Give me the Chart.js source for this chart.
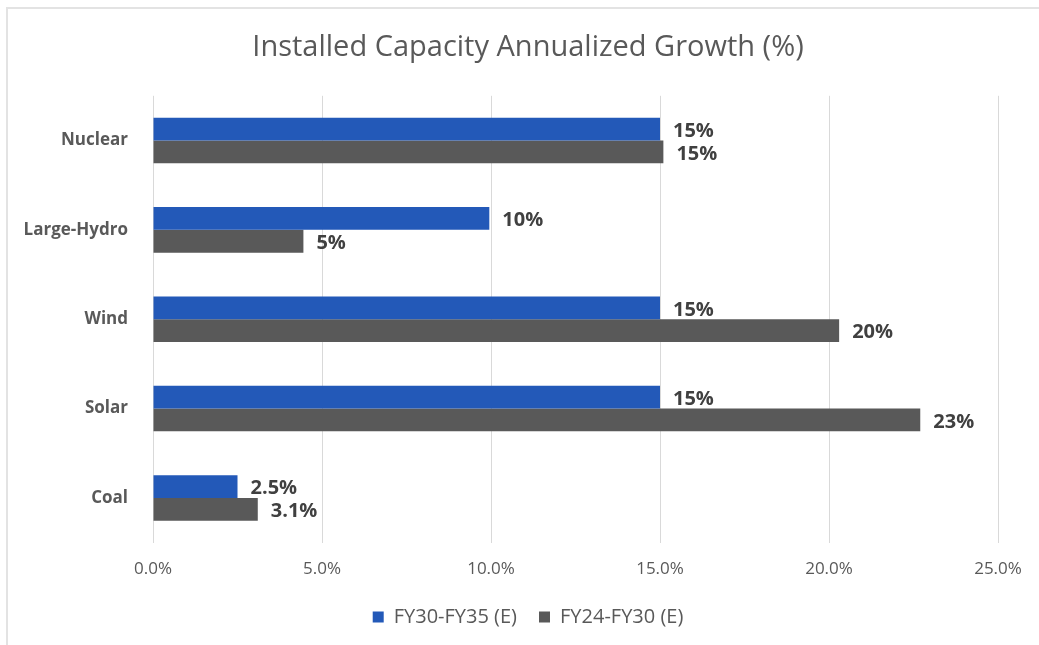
<!DOCTYPE html>
<html>
<head>
<meta charset="utf-8">
<title>Installed Capacity Annualized Growth</title>
<script src="https://cdn.jsdelivr.net/npm/chart.js@4"></script>
<style>
  html, body { margin: 0; padding: 0; background: #fff; }
  .frame {
    position: absolute; left: 6px; top: 7px; width: 1040px; height: 645px;
    border-left: 2px solid #e3e3e3; border-top: 2px solid #e3e3e3;
  }
  .chart-box { position: absolute; left: 0; top: 0; width: 1039px; height: 645px; }
</style>
</head>
<body>
<div class="frame"></div>
<div class="chart-box"><canvas id="chart"></canvas></div>
<script>
// categories and values (percent)
const categories = ['Nuclear', 'Large-Hydro', 'Wind', 'Solar', 'Coal'];
const fy30to35 = [15.0, 9.95, 15.0, 15.0, 2.5];
const fy24to30 = [15.1, 4.45, 20.3, 22.7, 3.1];
const fy30to35Labels = ['15%', '10%', '15%', '15%', '2.5%'];
const fy24to30Labels = ['15%', '5%', '20%', '23%', '3.1%'];
const seriesNames = ['FY30-FY35 (E)', 'FY24-FY30 (E)'];
const xTicks = [0, 5, 10, 15, 20, 25];

const FONT = "'Open Sans', 'Noto Sans', sans-serif";
const GREY_TEXT = '#595959';

// draw value labels at the end of each bar
const barLabels = {
  id: 'barLabels',
  afterDatasetsDraw(chart) {
    const ctx = chart.ctx;
    const texts = [fy30to35Labels, fy24to30Labels];
    ctx.save();
    ctx.font = `bold 20px ${FONT}`;
    ctx.fillStyle = '#404040';
    ctx.textAlign = 'left';
    ctx.textBaseline = 'middle';
    chart.data.datasets.forEach((ds, i) => {
      chart.getDatasetMeta(i).data.forEach((bar, j) => {
        ctx.fillText(texts[i][j], bar.x + 13, bar.y + 2);
      });
    });
    ctx.restore();
  }
};

// the y axis is kept narrow so title and legend centre like the original,
// so let its labels use the space to the left of it
const widenLabelArea = {
  id: 'widenLabelArea',
  afterLayout(chart) {
    chart.scales.y.left = 0;
  }
};

new Chart(document.getElementById('chart'), {
  type: 'bar',
  data: {
    labels: categories,
    datasets: [
      {
        label: seriesNames[0],
        data: fy30to35,
        backgroundColor: '#2359B8',
      },
      {
        label: seriesNames[1],
        data: fy24to30,
        backgroundColor: '#595959',
      },
    ],
  },
  options: {
    indexAxis: 'y',
    responsive: true,
    maintainAspectRatio: false,
    animation: false,
    categoryPercentage: 0.51,
    barPercentage: 1.0,
    layout: {
      padding: { left: 58, right: 41, top: 20, bottom: 8 },
    },
    plugins: {
      title: {
        display: true,
        text: 'Installed Capacity Annualized Growth (%)',
        color: GREY_TEXT,
        font: { family: FONT, size: 29, weight: 'normal' },
        padding: { top: 10, bottom: 31 },
      },
      legend: {
        position: 'bottom',
        labels: {
          color: GREY_TEXT,
          font: { family: FONT, size: 20 },
          boxWidth: 11,
          boxHeight: 11,
          padding: 22,
        },
      },
      tooltip: { enabled: false },
    },
    scales: {
      x: {
        min: 0,
        max: 25,
        afterBuildTicks: (scale) => {
          scale.ticks = xTicks.map(v => ({ value: v }));
        },
        afterFit: (scale) => { scale.height -= 10; },
        ticks: {
          color: GREY_TEXT,
          font: { family: FONT, size: 17 },
          padding: 16,
          callback: (v) => v.toFixed(1) + '%',
        },
        grid: { color: '#d9d9d9', drawTicks: false },
        border: { display: false },
      },
      y: {
        afterFit: (scale) => { scale.width = 95; },
        ticks: {
          color: GREY_TEXT,
          font: { family: FONT, size: 17, weight: 'bold' },
          padding: 17,
        },
        grid: { display: false },
        border: { display: false },
      },
    },
  },
  plugins: [barLabels, widenLabelArea],
});
</script>
</body>
</html>
